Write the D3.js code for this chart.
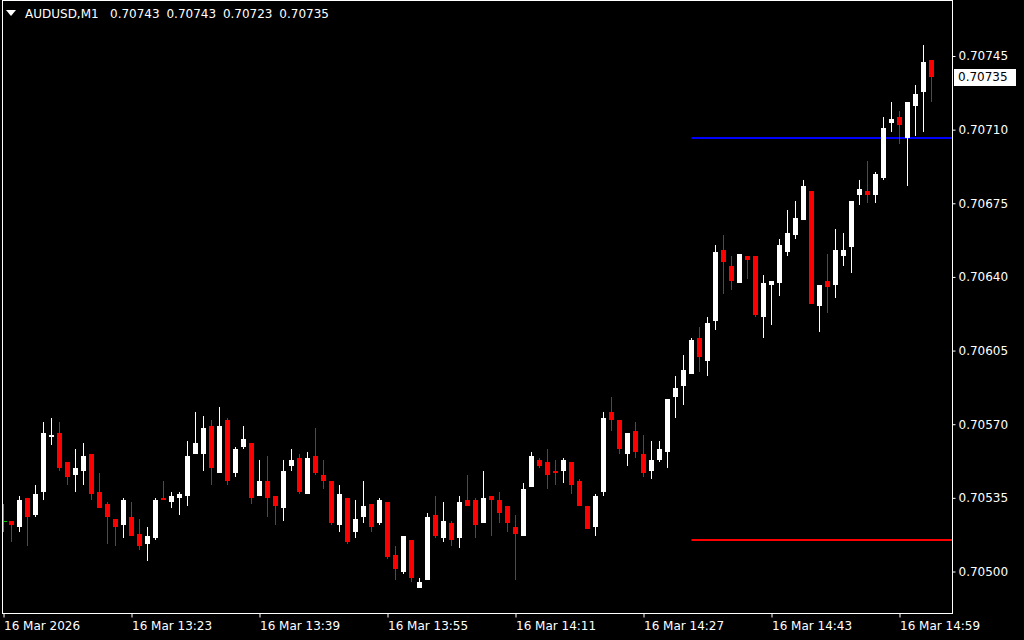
<!DOCTYPE html>
<html>
<head>
<meta charset="utf-8">
<script src="https://cdn.jsdelivr.net/npm/d3@7"></script>
<style>
  html, body { margin: 0; padding: 0; background: #000; }
  svg { display: block; }
  text { font-family: "DejaVu Sans", sans-serif; font-size: 12px; }
</style>
</head>
<body>
<svg id="chart" width="1024" height="640"></svg>
<script>
// ---- data ----
const symbolTitle = "AUDUSD,M1";
const lastOHLC = ["0.70743", "0.70743", "0.70723", "0.70735"];
const startTime = new Date(2026, 2, 16, 13, 8);

const opens = [
  0.70524,0.70521,0.70535,0.70527,0.70538,0.70564,0.70566,0.70552,0.70546,0.70548,
  0.70556,0.70538,0.70532,0.70525,0.70522,0.70526,0.70518,0.70513,0.70516,0.70535,
  0.70533,0.70535,0.70536,0.70556,0.70556,0.70569,0.70547,0.70572,0.70547,0.70559,
  0.70561,0.70536,0.70543,0.70536,0.70530,0.70550,0.70554,0.70537,0.70555,0.70546,
  0.70543,0.70522,0.70535,0.70519,0.70526,0.70532,0.70523,0.70533,0.70508,0.70500,
  0.70515,0.70492,0.70496,0.70527,0.70516,0.70523,0.70516,0.70534,0.70534,0.70523,
  0.70536,0.70534,0.70531,0.70521,0.70517,0.70540,0.70553,0.70552,0.70548,0.70548,
  0.70552,0.70543,0.70531,0.70521,0.70538,0.70576,0.70572,0.70556,0.70567,0.70556,
  0.70548,0.70553,0.70557,0.70583,0.70588,0.70594,0.70611,0.70600,0.70619,0.70653,
  0.70645,0.70637,0.70650,0.70650,0.70621,0.70636,0.70637,0.70652,0.70660,0.70667,
  0.70681,0.70626,0.70638,0.70636,0.70650,0.70654,0.70679,0.70681,0.70679,0.70687,
  0.70713,0.70716,0.70706,0.70721,0.70728,0.70743
];
const highs = [
  0.70524,0.70536,0.70535,0.70541,0.70571,0.70573,0.70571,0.70552,0.70558,0.70561,
  0.70556,0.70547,0.70533,0.70525,0.70535,0.70533,0.70525,0.70521,0.70535,0.70543,
  0.70538,0.70538,0.70562,0.70576,0.70574,0.70572,0.70578,0.70573,0.70559,0.70569,
  0.70561,0.70553,0.70555,0.70536,0.70553,0.70558,0.70556,0.70557,0.70568,0.70553,
  0.70543,0.70541,0.70535,0.70534,0.70543,0.70532,0.70535,0.70533,0.70512,0.70517,
  0.70515,0.70497,0.70528,0.70536,0.70533,0.70524,0.70536,0.70546,0.70535,0.70548,
  0.70536,0.70538,0.70531,0.70527,0.70542,0.70557,0.70554,0.70558,0.70553,0.70554,
  0.70552,0.70544,0.70531,0.70537,0.70576,0.70583,0.70572,0.70566,0.70571,0.70565,
  0.70562,0.70562,0.70582,0.70593,0.70603,0.70611,0.70616,0.70621,0.70655,0.70660,
  0.70650,0.70651,0.70650,0.70650,0.70641,0.70638,0.70658,0.70672,0.70676,0.70686,
  0.70681,0.70636,0.70651,0.70663,0.70661,0.70676,0.70686,0.70695,0.70690,0.70716,
  0.70723,0.70719,0.70723,0.70731,0.70750,0.70743
];
const lows = [
  0.70514,0.70519,0.70512,0.70526,0.70534,0.70560,0.70548,0.70541,0.70538,0.70541,
  0.70534,0.70530,0.70513,0.70512,0.70516,0.70517,0.70510,0.70505,0.70515,0.70534,
  0.70530,0.70527,0.70531,0.70556,0.70548,0.70541,0.70547,0.70541,0.70545,0.70558,
  0.70532,0.70536,0.70526,0.70522,0.70524,0.70548,0.70537,0.70537,0.70546,0.70539,
  0.70522,0.70519,0.70513,0.70516,0.70523,0.70519,0.70522,0.70506,0.70496,0.70499,
  0.70495,0.70492,0.70496,0.70516,0.70514,0.70512,0.70511,0.70531,0.70516,0.70523,
  0.70517,0.70523,0.70519,0.70496,0.70517,0.70540,0.70549,0.70539,0.70541,0.70542,
  0.70537,0.70531,0.70520,0.70517,0.70536,0.70567,0.70556,0.70550,0.70554,0.70545,
  0.70544,0.70552,0.70549,0.70573,0.70579,0.70594,0.70595,0.70593,0.70615,0.70632,
  0.70634,0.70637,0.70639,0.70621,0.70611,0.70617,0.70631,0.70650,0.70658,0.70667,
  0.70627,0.70614,0.70623,0.70630,0.70645,0.70642,0.70674,0.70675,0.70675,0.70686,
  0.70709,0.70703,0.70683,0.70707,0.70709,0.70723
];
const closes = [
  0.70522,0.70534,0.70526,0.70537,0.70566,0.70565,0.70549,0.70545,0.70549,0.70555,
  0.70537,0.70530,0.70526,0.70521,0.70534,0.70517,0.70512,0.70517,0.70534,0.70534,
  0.70536,0.70537,0.70555,0.70561,0.70568,0.70549,0.70569,0.70543,0.70558,0.70563,
  0.70535,0.70543,0.70535,0.70531,0.70548,0.70553,0.70538,0.70554,0.70547,0.70543,
  0.70523,0.70537,0.70514,0.70525,0.70531,0.70521,0.70534,0.70507,0.70501,0.70517,
  0.70497,0.70495,0.70526,0.70517,0.70524,0.70515,0.70533,0.70531,0.70522,0.70535,
  0.70534,0.70528,0.70523,0.70518,0.70539,0.70555,0.70550,0.70546,0.70547,0.70553,
  0.70541,0.70531,0.70520,0.70536,0.70573,0.70572,0.70558,0.70566,0.70557,0.70547,
  0.70553,0.70558,0.70582,0.70587,0.70596,0.70610,0.70602,0.70618,0.70652,0.70647,
  0.70638,0.70651,0.70648,0.70622,0.70637,0.70638,0.70655,0.70661,0.70668,0.70683,
  0.70627,0.70636,0.70635,0.70653,0.70653,0.70676,0.70682,0.70679,0.70689,0.70711,
  0.70715,0.70712,0.70723,0.70727,0.70742,0.70735
];

// partially visible bar at the left edge (13:07)
const edgeBar = { time: "13:07", high: 0.70532, low: 0.70519, close: 0.70524 };

const priceTicks = [0.70500,0.70535,0.70570,0.70605,0.70640,0.70675,0.70710,0.70745];
const timeTickTimes = ["13:07","13:23","13:39","13:55","14:11","14:27","14:43","14:59"];
const timeTickLabels = ["16 Mar 2026","16 Mar 13:23","16 Mar 13:39","16 Mar 13:55",
                        "16 Mar 14:11","16 Mar 14:27","16 Mar 14:43","16 Mar 14:59"];

const currentPrice = 0.70735;
const levelLines = [
  { price: 0.70706, from: "14:33", color: "#0000ff" },
  { price: 0.70515, from: "14:33", color: "#ff0000" }
];

// ---- helpers ----
const parseHM = s => { const [h, m] = s.split(":").map(Number); return new Date(2026, 2, 16, h, m); };
const times = opens.map((_, i) => new Date(startTime.getTime() + i * 60000));
const candles = times.map((t, i) => ({ t, o: opens[i], h: highs[i], l: lows[i], c: closes[i] }));

// ---- layout ----
const svg = d3.select("#chart");
const plotLeft = 2.5, plotRight = 952.5, plotTop = 0.5, plotBottom = 613.5;

const x = d3.scaleTime().domain([times[0], times[times.length - 1]]).range([11.5, 931.5]);
const y = d3.scaleLinear().domain([0.70500, 0.70745]).range([571.5, 56]);

svg.append("rect").attr("width", 1024).attr("height", 640).attr("fill", "#000");

// level lines
svg.append("g").selectAll("line").data(levelLines).join("line")
  .attr("x1", d => x(parseHM(d.from))).attr("x2", plotRight)
  .attr("y1", d => Math.round(y(d.price))).attr("y2", d => Math.round(y(d.price)))
  .attr("stroke", d => d.color).attr("stroke-width", 2);

// candles
const cg = svg.append("g").attr("shape-rendering", "crispEdges");
const col = d => d.c >= d.o ? "#ffffff" : "#ff0000";
cg.selectAll("line.wick").data(candles).join("line").attr("class", "wick")
  .attr("x1", d => x(d.t)).attr("x2", d => x(d.t))
  .attr("y1", d => y(d.h)).attr("y2", d => y(d.l))
  .attr("stroke", col).attr("stroke-width", 1);
cg.selectAll("rect.body").data(candles).join("rect").attr("class", "body")
  .attr("x", d => x(d.t) - 2.5).attr("width", 5)
  .attr("y", d => y(Math.max(d.o, d.c)))
  .attr("height", d => Math.max(1, y(Math.min(d.o, d.c)) - y(Math.max(d.o, d.c))))
  .attr("fill", col);

// edge bar (green)
const ex = x(parseHM(edgeBar.time));
cg.append("line").attr("x1", ex).attr("x2", ex).attr("y1", y(edgeBar.high)).attr("y2", y(edgeBar.low))
  .attr("stroke", "#00d000");
cg.append("line").attr("x1", ex).attr("x2", ex + 3).attr("y1", y(edgeBar.close)).attr("y2", y(edgeBar.close))
  .attr("stroke", "#00d000");

// frame
svg.append("rect").attr("x", plotLeft).attr("y", plotTop)
  .attr("width", plotRight - plotLeft).attr("height", plotBottom - plotTop)
  .attr("fill", "none").attr("stroke", "#fff").attr("stroke-width", 1)
  .attr("shape-rendering", "crispEdges");

// price axis
const ya = svg.append("g").attr("transform", `translate(${plotRight},0)`)
  .call(d3.axisRight(y).tickValues(priceTicks).tickFormat(d3.format(".5f")).tickSize(3).tickPadding(3));
ya.select(".domain").remove();
ya.selectAll("line").attr("stroke", "#fff");
ya.selectAll("text").attr("fill", "#fff").style("font-family", "DejaVu Sans").style("font-size", "12px");

// time axis
const xa = svg.append("g").attr("transform", `translate(0,${plotBottom})`)
  .call(d3.axisBottom(x).tickValues(timeTickTimes.map(parseHM))
    .tickFormat((d, i) => timeTickLabels[i]).tickSize(4));
xa.select(".domain").remove();
xa.selectAll("line").attr("stroke", "#fff");
xa.selectAll("text").attr("fill", "#fff").attr("text-anchor", "start").attr("x", 0).attr("y", 8)
  .style("font-family", "DejaVu Sans").style("font-size", "12px");

// current price label
const cy = y(currentPrice);
svg.append("rect").attr("x", 954).attr("y", Math.round(cy) - 8).attr("width", 62).attr("height", 17)
  .attr("fill", "#fff");
svg.append("text").attr("x", 958).attr("y", cy).attr("dy", "0.36em").attr("fill", "#000")
  .text(d3.format(".5f")(currentPrice));

// header
svg.append("path").attr("d", "M6,10 L16,10 L11,16 Z").attr("fill", "#fff");
svg.append("text").attr("x", 25).attr("y", 18).attr("fill", "#fff").text(symbolTitle);
svg.append("text").attr("x", 110).attr("y", 18).attr("fill", "#fff")
  .style("word-spacing", "3px").text(lastOHLC.join(" "));
</script>
</body>
</html>
